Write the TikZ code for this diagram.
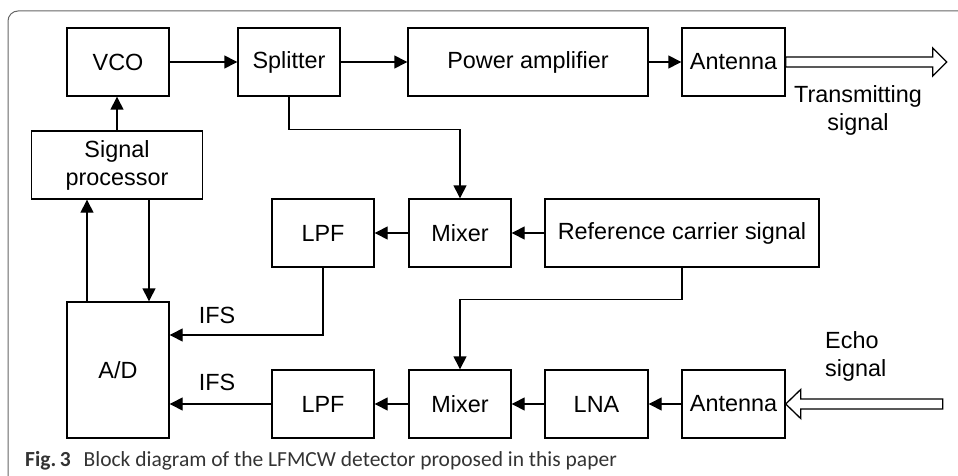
\documentclass[tikz,border=0pt]{standalone}
\usepackage{fontspec}
\setmainfont{Liberation Sans}
\newfontfamily\capfont{Carlito}
\usetikzlibrary{arrows.meta,calc}
\begin{document}
\begin{tikzpicture}[x=1pt,y=-1pt,
  blk/.style={draw, line width=1.4pt, minimum height=68pt, inner sep=0pt,
    font=\fontsize{23.4}{28}\selectfont, align=center},
  conn/.style={line width=1.4pt, -{Triangle[length=13pt,width=13pt]}},
  hollow/.style={draw, line width=1.3pt, fill=white},
  lbl/.style={font=\fontsize{23.4}{28}\selectfont, inner sep=0pt}]
\useasboundingbox (0,0) rectangle (958,476);
\draw[black!60, line width=1pt, rounded corners=10pt] (8,480) -- (8,11) -- (962,11);

\node[blk, minimum width=102pt] (vco) at (118,62) {VCO};
\node[blk, minimum width=102pt] (spl) at (289,62) {Splitter};
\node[blk, minimum width=240pt] (pa) at (528,62) {Power amplifier};
\node[blk, minimum width=103pt] (ant1) at (733.5,62) {Antenna};
\node[blk, minimum width=171pt] (sp) at (117,165) {Signal\\processor};
\node[blk, minimum width=102pt] (lpf1) at (323,233) {LPF};
\node[blk, minimum width=102pt] (mix1) at (460,233) {Mixer};
\node[blk, minimum width=274pt] (ref) at (682,233) {Reference carrier signal};
\node[blk, minimum width=102pt, minimum height=136pt] (ad) at (118,370) {A/D};
\node[blk, minimum width=102pt] (lpf2) at (323,404) {LPF};
\node[blk, minimum width=102pt] (mix2) at (460,404) {Mixer};
\node[blk, minimum width=103pt] (lna) at (596.5,404) {LNA};
\node[blk, minimum width=103pt] (ant2) at (733.5,404) {Antenna};

\coordinate (adl) at ($(ad.north)+(-31,0)$);
\coordinate (adr) at ($(ad.north)+(31,0)$);
\coordinate (ifsin) at ($(ad.east)+(0,-35)$);

\draw[conn] (vco) -- (spl);
\draw[conn] (spl) -- (pa);
\draw[conn] (pa) -- (ant1);
\draw[conn] (sp.north) -- (sp.north |- vco.south);
\draw[conn] (spl.south) -- ++(0,33) -| (mix1.north);
\draw[conn] (mix1) -- (lpf1);
\draw[conn] (ref) -- (mix1);
\draw[conn] (lpf1.south) |- (ifsin);
\draw[conn] (lpf2.west) -- (lpf2.west -| ad.east);
\draw[conn] (mix2) -- (lpf2);
\draw[conn] (lna) -- (mix2);
\draw[conn] (ant2) -- (lna);
\draw[conn] (ref.south) -- ++(0,32) -| (mix2.north);
\draw[conn] (adl) -- (adl |- sp.south);
\draw[conn] (adr |- sp.south) -- (adr);

\node[lbl] (ifs1) at (217,315) {IFS};
\node[lbl] (ifs2) at (217,382) {IFS};

\draw[hollow] (ant1.east) ++(0,-5) -- ++(147,0) -- ++(0,-9) -- ++(14,14)
  -- ++(-14,14) -- ++(0,-9) -- ++(-147,0) -- cycle;
\draw[hollow] (ant2.east) -- ++(15,-14.5) -- ++(0,9.5) -- ++(142,0)
  -- ++(0,10) -- ++(-142,0) -- ++(0,9.5) -- cycle;

\node[lbl, align=center] (tx) at (858,110) {Transmitting\\signal};
\node[lbl, align=left, anchor=west] (echo) at (825,356) {Echo\\signal};

\node[anchor=base west, inner sep=0pt, text=black!80,
  font=\capfont\fontsize{21.5}{24}\selectfont] (cap) at (25,466)
  {\textbf{Fig.\,3}\hspace{0.6em}Block diagram of the LFMCW detector proposed in this paper};
\end{tikzpicture}
\end{document}
